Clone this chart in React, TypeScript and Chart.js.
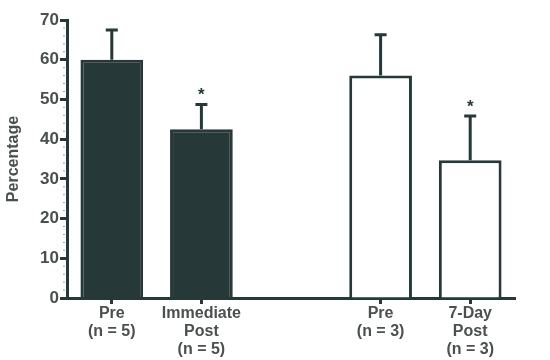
import React, { useEffect, useRef } from "react";
import { Chart, registerables } from "chart.js";

Chart.register(...registerables);

const categories: (string | string[])[] = [
  ["Pre", "(n = 5)"],
  ["Immediate", "Post", "(n = 5)"],
  "",
  ["Pre", "(n = 3)"],
  ["7-Day", "Post", "(n = 3)"],
];
const means: (number | null)[] = [60, 42.5, null, 56, 34.7];
const errors: (number | null)[] = [7.5, 6.2, null, 10.3, 11.1];
const significant: boolean[] = [false, true, false, false, true];
const filled: boolean[] = [true, true, false, false, false];

const DARK = "#263838";
const TEXT = "#4a4f4f";
const FONT = "'Liberation Sans', Arial, sans-serif";

const errorBarPlugin = {
  id: "errorBars",
  afterDatasetsDraw(chart: any) {
    const ctx = chart.ctx;
    const meta = chart.getDatasetMeta(0);
    const y = chart.scales.y;
    ctx.save();
    meta.data.forEach((bar: any, i: number) => {
      const m = means[i];
      const e = errors[i];
      if (m == null || e == null) return;
      const x = bar.x;
      const yTop = y.getPixelForValue(m + e);
      const yBase = y.getPixelForValue(m);
      ctx.strokeStyle = DARK;
      ctx.lineWidth = 3;
      ctx.beginPath();
      ctx.moveTo(x, yBase);
      ctx.lineTo(x, yTop);
      ctx.moveTo(x - 6, yTop);
      ctx.lineTo(x + 6, yTop);
      ctx.stroke();
      if (significant[i]) {
        ctx.fillStyle = DARK;
        ctx.font = `bold 17px ${FONT}`;
        ctx.textAlign = "center";
        ctx.textBaseline = "middle";
        ctx.fillText("*", x, yTop - 9);
      }
    });
    ctx.strokeStyle = "#9aa0a0";
    ctx.lineWidth = 1;
    for (let v = 2; v < 70; v += 2) {
      if (v % 10 === 0) continue;
      const py = y.getPixelForValue(v);
      ctx.beginPath();
      ctx.moveTo(chart.chartArea.left - 4, py);
      ctx.lineTo(chart.chartArea.left - 2, py);
      ctx.stroke();
    }
    ctx.restore();
  },
};

export default function App() {
  const ref = useRef<HTMLCanvasElement | null>(null);
  useEffect(() => {
    if (!ref.current) return;
    const chart = new Chart(ref.current, {
      type: "bar",
      data: {
        labels: categories,
        datasets: [
          {
            data: means,
            backgroundColor: filled.map((f) => (f ? DARK : "#ffffff")),
            borderColor: DARK,
            borderWidth: 3,
            categoryPercentage: 0.7,
            barPercentage: 1,
          },
        ],
      },
      options: {
        animation: false,
        responsive: false,
        layout: { padding: { top: 20, right: 35, left: 0, bottom: 0 } },
        plugins: {
          legend: { display: false },
          tooltip: { enabled: false },
        },
        scales: {
          x: {
            offset: true,
            border: { display: true, color: DARK, width: 3 },
            grid: {
              display: true,
              offset: false,
              drawOnChartArea: false,
              drawTicks: true,
              tickLength: 6,
              tickWidth: 3,
              tickColor: (c: any) => (c.index === 2 ? "rgba(0,0,0,0)" : DARK),
            },
            ticks: {
              color: TEXT,
              padding: 0,
              maxRotation: 0,
              autoSkip: false,
              font: { family: FONT, size: 16, weight: "bold", lineHeight: 1.15 },
            },
            afterFit: (s: any) => {
              s.height = 62;
            },
          },
          y: {
            min: 0,
            max: 70,
            border: { display: true, color: DARK, width: 3 },
            grid: {
              display: true,
              drawOnChartArea: false,
              drawTicks: true,
              tickLength: 7,
              tickWidth: 3,
              tickColor: DARK,
            },
            ticks: {
              stepSize: 10,
              color: TEXT,
              padding: 1,
              font: { family: FONT, size: 17, weight: "bold" },
            },
            title: {
              display: true,
              text: "Percentage",
              color: TEXT,
              padding: { top: 4, bottom: 10 },
              font: { family: FONT, size: 16, weight: "bold" },
            },
            afterFit: (s: any) => {
              s.width = 67;
            },
          },
        },
      },
      plugins: [errorBarPlugin],
    });
    return () => chart.destroy();
  }, []);
  return (
    <div style={{ position: "fixed", left: 0, top: 0, width: 550, height: 360, background: "#fff" }}>
      <canvas ref={ref} width={550} height={360} />
    </div>
  );
}
